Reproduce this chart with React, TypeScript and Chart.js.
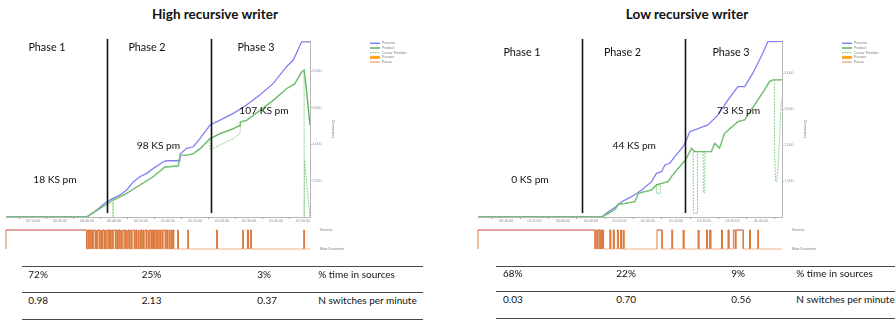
import React, { useEffect, useRef } from 'react';
import { Chart, registerables } from 'chart.js';

Chart.register(...registerables);

type P = [number, number];

// ---------- High recursive writer (left) ----------
const highProcess: P[] = [[0,0],[29.9,0],[33.6,384],[37.3,838],[39.7,1023],[42.2,1205],[44.7,1479],[47.2,1936],[49.6,2210],[52.1,2393],[54.6,2667],[58.3,3028],[59.5,3084],[64.4,3084],[64.5,3451],[66.9,3763],[69.4,3850],[71.9,4307],[73.7,4668],[75.6,5042],[79.3,5316],[84.2,5681],[89.1,6138],[94.0,6686],[99.0,7327],[103.9,8240],[106.4,8604],[109.5,9607],[112.6,9607]];
const highProduct: P[] = [[0,0],[29.9,0],[34.8,477],[37.3,713],[39.7,932],[44.7,1297],[49.6,1753],[54.6,2219],[58.9,2740],[63.8,2795],[64.4,3381],[66.9,3381],[69.4,3474],[71.9,3748],[75.6,4296],[79.3,4570],[84.2,4844],[86.7,5025],[86.8,5207],[89.1,5298],[94.1,5846],[99.0,6394],[103.9,7035],[107.0,7309],[109.5,7950],[110.4,8055],[111.1,7233],[112.6,5042]];
const highCursor: P[] = [[0,0],[29.9,0],[34.8,477],[37.3,713],[39.6,920],[39.65,0],[39.7,932],[44.7,1297],[49.6,1753],[54.6,2219],[58.9,2740],[63.8,2795],[64.4,3381],[66.9,3381],[69.4,3474],[71.9,3748],[75.5,4280],[75.6,3672],[79.3,3950],[84.2,4300],[86.7,4603],[86.8,5207],[89.1,5298],[94.1,5846],[99.0,6394],[103.9,7035],[107.0,7309],[109.5,7950],[110.4,8055],[110.45,0],[110.6,3123],[112.6,0]];
const highSourceVisits: P[] = [[0,29.9],[30.3,30.7],[31.0,31.5],[31.8,32.1],[32.5,33.1],[33.4,33.7],[34.1,34.8],[35.2,35.5],[35.8,36.4],[36.7,37.0],[37.5,38.1],[38.4,38.8],[39.2,39.5],[39.9,40.6],[41.0,41.3],[41.7,42.2],[42.6,42.9],[43.4,44.1],[44.5,44.8],[45.3,45.7],[46.2,46.5],[47.0,47.7],[48.1,48.4],[48.9,49.2],[49.8,50.3],[50.7,51.0],[51.5,52.1],[52.6,52.9],[53.3,53.8],[54.2,54.5],[55.0,55.6],[56.0,56.3],[56.8,57.2],[57.7,58.0],[58.5,59.1],[59.5,59.8],[60.3,60.7],[61.2,61.5],[61.8,62.1],[63.6,63.8],[67.3,67.6],[78.0,78.3],[87.7,87.9],[89.4,89.7],[90.5,90.9],[110.3,110.5]];
const highXMax = 112.6;
const highYMax = 9650;
const highYTicks = [2000, 4000, 6000, 8000];
const highTimeTicks = [10, 20, 30, 40, 50, 60, 70, 80, 90, 100, 110];
const highTimeLabels = ['00:10:00','00:20:00','00:30:00','00:40:00','00:50:00','01:00:00','01:10:00','01:20:00','01:30:00','01:40:00','01:50:00'];
const highPhaseBounds = [37.3, 75.8];
const highRates = ['18 KS pm', '98 KS pm', '107 KS pm'];
const highTimeInSources = ['72%', '25%', '3%'];
const highSwitches = ['0.98', '2.13', '0.37'];

// ---------- Low recursive writer (right) ----------
const lowProcess: P[] = [[0,0],[43.8,0],[46.1,147],[48.5,270],[50.8,425],[54.3,564],[57.9,751],[61.4,981],[63.1,1215],[64.9,1259],[66.1,1446],[67.8,1493],[69.6,1676],[72.5,1954],[73.7,2141],[74.9,2371],[76.6,2419],[81.3,2558],[84.9,2836],[88.4,3253],[91.9,3622],[94.3,3622],[97.2,3995],[100.7,4551],[102.5,4873],[107.5,4880]];
const lowProduct: P[] = [[0,0],[43.8,0],[46.1,102],[48.5,213],[49.7,361],[52.0,380],[55.5,426],[56.7,658],[59.0,704],[61.4,751],[63.1,890],[64.9,936],[67.2,982],[68.4,1121],[70.8,1353],[73.4,1585],[75.5,1909],[76.6,1816],[82.5,1816],[83.7,2048],[85.4,1909],[87.2,2326],[91.9,2650],[94.3,2697],[96.6,2975],[99.0,3253],[101.3,3531],[103.1,3763],[104.3,3809],[107.5,3809]];
const lowCursor: P[] = [[0,0],[43.8,0],[46.1,102],[48.5,213],[49.7,361],[52.0,380],[55.5,426],[56.7,658],[59.0,704],[61.4,751],[63.1,890],[63.2,650],[64.4,650],[64.5,930],[64.9,936],[67.2,982],[68.4,1121],[70.8,1353],[73.4,1585],[75.5,1909],[76.1,1840],[76.15,102],[77.6,102],[77.65,1816],[79.6,1816],[79.65,676],[80.2,676],[80.25,1816],[82.5,1816],[83.7,2048],[85.4,1909],[87.2,2326],[91.9,2650],[94.3,2697],[96.6,2975],[99.0,3253],[101.3,3531],[103.1,3763],[104.3,3809],[104.8,3809],[104.85,1955],[105.2,982],[105.6,982],[106.0,1260],[106.6,2100],[107.2,3160],[107.5,3300]];
const lowSourceVisits: P[] = [[0,41.4],[41.8,42.2],[42.5,43.1],[43.4,43.7],[44.0,44.4],[46.6,46.9],[47.8,48.1],[49.3,49.6],[50.4,50.7],[51.3,51.6],[63.3,65.1],[68.5,68.8],[72.5,72.8],[77.8,78.1],[80.8,81.1],[81.9,82.3],[86.1,86.4],[88.4,88.7],[90.3,91.0],[91.3,93.8],[96.0,96.3],[98.9,99.2]];
const lowXMax = 107.5;
const lowYMax = 4890;
const lowYTicks = [1000, 2000, 3000, 4000];
const lowTimeTicks = [10, 20, 30, 40, 50, 60, 70, 80, 90, 100];
const lowTimeLabels = ['00:10:00','00:20:00','00:30:00','00:40:00','00:50:00','01:00:00','01:10:00','01:20:00','01:30:00','01:40:00'];
const lowPhaseBounds = [36.7, 73.3];
const lowRates = ['0 KS pm', '44 KS pm', '73 KS pm'];
const lowTimeInSources = ['68%', '22%', '9%'];
const lowSwitches = ['0.03', '0.70', '0.56'];

// ---------- shared labels ----------
const phaseNames = ['Phase 1', 'Phase 2', 'Phase 3'];
const tableRowLabels = ['% time in sources', 'N switches per minute'];
const stripLabels = ['Main Document', 'Sources'];
const legendLabels = ['Process', 'Product', 'Cursor Position', 'Pauses', 'Focus'];
const yAxisTitle = 'Characters';

const C_PROCESS = '#8080f4';
const C_PRODUCT = '#5db35d';
const C_CURSOR = '#8ccf8c';
const C_PAUSE = '#ffa41c';
const C_FOCUS = '#f3b487';
const FONT = 'Lato, "Open Sans", sans-serif';
const TINY = '"Liberation Sans", Arial, sans-serif';

const legendStyles = [
  { color: C_PROCESS, width: 1.5, dash: [] as number[] },
  { color: C_PRODUCT, width: 1.5, dash: [] as number[] },
  { color: C_CURSOR, width: 1.2, dash: [1.5, 1] },
  { color: C_PAUSE, width: 3, dash: [] as number[] },
  { color: C_FOCUS, width: 1.5, dash: [] as number[] },
];

const phaseLinesPlugin = {
  id: 'phaseLines',
  afterDatasetsDraw(chart: any, _a: any, opts: any) {
    const { ctx, chartArea, scales } = chart;
    ctx.save();
    ctx.strokeStyle = '#111';
    ctx.lineWidth = 1.6;
    (opts.times || []).forEach((t: number) => {
      const x = Math.round(scales.x.getPixelForValue(t)) + 0.5;
      ctx.beginPath();
      ctx.moveTo(x, chartArea.top - 2);
      ctx.lineTo(x, chartArea.bottom - 4);
      ctx.stroke();
    });
    ctx.restore();
  },
};

const sideLegendPlugin = {
  id: 'sideLegend',
  afterDraw(chart: any, _a: any, opts: any) {
    const { ctx, chartArea } = chart;
    ctx.save();
    const x0 = chartArea.right + opts.dx;
    legendLabels.forEach((label, i) => {
      const st = legendStyles[i];
      const y = chartArea.top + opts.dy + i * opts.gap;
      ctx.strokeStyle = st.color;
      ctx.lineWidth = st.width;
      ctx.setLineDash(st.dash);
      ctx.beginPath();
      ctx.moveTo(x0, y);
      ctx.lineTo(x0 + 10, y);
      ctx.stroke();
      ctx.setLineDash([]);
      ctx.fillStyle = '#777';
      ctx.font = `3.6px ${TINY}`;
      ctx.textBaseline = 'middle';
      ctx.fillText(label, x0 + 12, y);
    });
    ctx.restore();
  },
};

const toXY = (arr: P[]) => arr.map(([x, y]) => ({ x, y }));

interface LineProps {
  left: number; top: number; width: number; height: number;
  pad: { left: number; right: number; top: number; bottom: number };
  process: P[]; product: P[]; cursor: P[];
  xMax: number; yMax: number; yTicks: number[];
  timeTicks: number[]; timeLabels: string[]; phases: number[];
}

function ProgressChart(p: LineProps) {
  const ref = useRef<HTMLCanvasElement>(null);
  useEffect(() => {
    const allTicks: number[] = [];
    p.timeTicks.forEach((m) => { allTicks.push(m - 5, m); });
    const last = p.timeTicks[p.timeTicks.length - 1] + 5;
    if (last <= p.xMax) allTicks.push(last);
    const chart = new Chart(ref.current as HTMLCanvasElement, {
      type: 'line',
      data: {
        datasets: [
          { label: legendLabels[2], data: toXY(p.cursor), borderColor: C_CURSOR, borderWidth: 1, borderDash: [2, 1], pointRadius: 0, tension: 0 },
          { label: legendLabels[1], data: toXY(p.product), borderColor: C_PRODUCT, borderWidth: 1.4, pointRadius: 0, tension: 0 },
          { label: legendLabels[0], data: toXY(p.process), borderColor: C_PROCESS, borderWidth: 1.3, pointRadius: 0, tension: 0 },
        ],
      },
      plugins: [phaseLinesPlugin, sideLegendPlugin],
      options: {
        animation: false,
        responsive: false,
        maintainAspectRatio: false,
        layout: { padding: p.pad },
        plugins: {
          legend: { display: false },
          tooltip: { enabled: false },
          phaseLines: { times: p.phases },
          sideLegend: { dx: 60, dy: 2.3, gap: 4.7 },
        } as any,
        scales: {
          x: {
            type: 'linear',
            min: 0,
            max: p.xMax,
            afterBuildTicks: (s: any) => { s.ticks = allTicks.map((v) => ({ value: v })); },
            afterFit: (s: any) => { s.height = 10; },
            ticks: {
              autoSkip: false, maxRotation: 0, minRotation: 0,
              font: { size: 3.6, family: TINY }, color: '#888', padding: 0,
              callback: (v: any) => { const i = p.timeTicks.indexOf(Number(v)); return i >= 0 ? p.timeLabels[i] : ''; },
            },
            grid: {
              drawOnChartArea: false, drawTicks: true, tickLength: 2,
              tickColor: (ctx: any) => (ctx.tick && p.timeTicks.includes(ctx.tick.value) ? 'rgba(0,0,0,0)' : '#999'),
            },
            border: { color: '#b5b5b5' },
          },
          y: {
            type: 'linear',
            position: 'right',
            min: 0,
            max: p.yMax,
            afterBuildTicks: (s: any) => { s.ticks = p.yTicks.map((v) => ({ value: v })); },
            afterFit: (s: any) => { s.width = 26; },
            ticks: {
              font: { size: 3.6, family: TINY }, color: '#888', padding: 1,
              callback: (v: any) => Number(v).toLocaleString('en-US'),
            },
            grid: { drawOnChartArea: false, drawTicks: true, tickLength: 1.5, tickColor: '#999' },
            border: { color: '#b5b5b5' },
            title: { display: true, text: yAxisTitle, font: { size: 3.8, family: TINY }, color: '#777', padding: 1 },
          },
        },
      } as any,
    });
    return () => chart.destroy();
  }, []);
  return <canvas ref={ref} width={p.width} height={p.height} style={{ position: 'absolute', left: p.left, top: p.top, width: p.width, height: p.height }} />;
}

interface StripProps {
  left: number; top: number; width: number; height: number;
  pad: { left: number; right: number; top: number; bottom: number };
  visits: P[]; xMax: number;
}

function SourceStrip(p: StripProps) {
  const ref = useRef<HTMLCanvasElement>(null);
  useEffect(() => {
    const pts: { x: number; y: number }[] = [{ x: 0, y: 0 }];
    p.visits.forEach(([a, b]) => {
      pts.push({ x: a, y: 0 }, { x: a, y: 1 }, { x: b, y: 1 }, { x: b, y: 0 });
    });
    pts.push({ x: p.xMax, y: 0 });
    const chart = new Chart(ref.current as HTMLCanvasElement, {
      type: 'line',
      data: {
        datasets: [{
          label: 'Focus',
          data: pts,
          borderWidth: 1,
          pointRadius: 0,
          tension: 0,
          clip: 4,
          borderColor: '#e8955a',
          segment: {
            borderColor: (ctx: any) => {
              const y0 = ctx.p0.parsed.y, y1 = ctx.p1.parsed.y;
              if (y0 !== y1) return '#dc7a3c';
              return y0 === 1 ? '#c44a3c' : '#f1b185';
            },
          },
        } as any],
      },
      options: {
        animation: false,
        responsive: false,
        maintainAspectRatio: false,
        layout: { padding: p.pad },
        plugins: { legend: { display: false }, tooltip: { enabled: false } },
        scales: {
          x: { type: 'linear', min: 0, max: p.xMax, display: false },
          y: {
            type: 'linear', position: 'right', min: 0, max: 1,
            afterBuildTicks: (s: any) => { s.ticks = [{ value: 0 }, { value: 1 }]; },
            afterFit: (s: any) => { s.width = 40; },
            ticks: { font: { size: 3.4, family: TINY }, color: '#777', padding: 2, callback: (v: any) => stripLabels[Number(v)] },
            grid: { display: false },
            border: { display: false },
          },
        },
      } as any,
    });
    return () => chart.destroy();
  }, []);
  return <canvas ref={ref} width={p.width} height={p.height} style={{ position: 'absolute', left: p.left, top: p.top, width: p.width, height: p.height }} />;
}

const Txt = (props: { x: number; y: number; size: number; bold?: boolean; center?: boolean; children: React.ReactNode }) => (
  <div style={{
    position: 'absolute', left: props.x, top: props.y,
    transform: `translate(${props.center ? '-50%' : '0'}, -50%)`,
    fontFamily: FONT, fontSize: props.size, fontWeight: props.bold ? 700 : 400,
    lineHeight: 1, whiteSpace: 'nowrap', color: '#111',
  }}>{props.children}</div>
);

const HLine = (props: { x1: number; x2: number; y: number }) => (
  <div style={{ position: 'absolute', left: props.x1, top: props.y, width: props.x2 - props.x1, height: 1, background: '#4a4a4a' }} />
);

function StatsTable(props: { x1: number; x2: number; lines: number[]; rows: number[]; cols: number[]; cells: string[][] }) {
  return (
    <>
      {props.lines.map((y, i) => <HLine key={'l' + i} x1={props.x1} x2={props.x2} y={y} />)}
      {props.cells.map((row, r) => row.map((c, k) => (
        <Txt key={r + '-' + k} x={props.cols[k]} y={props.rows[r]} size={10}>{c}</Txt>
      )))}
    </>
  );
}

export default function App() {
  return (
    <div style={{ position: 'absolute', left: 0, top: 0, width: 896, height: 321, background: '#fff', overflow: 'hidden' }}>
      {/* Left panel */}
      <Txt x={215} y={14.5} size={13.5} bold center>High recursive writer</Txt>
      <ProgressChart left={0} top={0} width={448} height={228}
        pad={{ left: 6, right: 112, top: 41, bottom: 1 }}
        process={highProcess} product={highProduct} cursor={highCursor}
        xMax={highXMax} yMax={highYMax} yTicks={highYTicks}
        timeTicks={highTimeTicks} timeLabels={highTimeLabels} phases={highPhaseBounds} />
      <SourceStrip left={0} top={222} width={448} height={32}
        pad={{ left: 6, right: 98, top: 8, bottom: 5 }} visits={highSourceVisits} xMax={highXMax} />
      <Txt x={47} y={46.7} size={10.8} center>{phaseNames[0]}</Txt>
      <Txt x={147} y={46.7} size={10.8} center>{phaseNames[1]}</Txt>
      <Txt x={256} y={46.7} size={10.8} center>{phaseNames[2]}</Txt>
      <Txt x={55} y={179.3} size={10.2} center>{highRates[0]}</Txt>
      <Txt x={158.5} y={145} size={10.2} center>{highRates[1]}</Txt>
      <Txt x={264} y={110} size={10.2} center>{highRates[2]}</Txt>
      <StatsTable x1={22} x2={423} lines={[265.5, 292, 318.5]} rows={[274, 300.3]} cols={[28.3, 141.7, 257.3, 318.3]}
        cells={[[...highTimeInSources, tableRowLabels[0]], [...highSwitches, tableRowLabels[1]]]} />

      {/* Right panel */}
      <Txt x={687} y={14.5} size={13.5} bold center>Low recursive writer</Txt>
      <ProgressChart left={448} top={0} width={448} height={228}
        pad={{ left: 30, right: 88, top: 41, bottom: 1 }}
        process={lowProcess} product={lowProduct} cursor={lowCursor}
        xMax={lowXMax} yMax={lowYMax} yTicks={lowYTicks}
        timeTicks={lowTimeTicks} timeLabels={lowTimeLabels} phases={lowPhaseBounds} />
      <SourceStrip left={448} top={222} width={448} height={32}
        pad={{ left: 30, right: 74, top: 8, bottom: 5 }} visits={lowSourceVisits} xMax={lowXMax} />
      <Txt x={522} y={52.3} size={10.8} center>{phaseNames[0]}</Txt>
      <Txt x={622.5} y={52.3} size={10.8} center>{phaseNames[1]}</Txt>
      <Txt x={731} y={52.3} size={10.8} center>{phaseNames[2]}</Txt>
      <Txt x={530} y={179.3} size={10.2} center>{lowRates[0]}</Txt>
      <Txt x={634.3} y={145} size={10.2} center>{lowRates[1]}</Txt>
      <Txt x={738.5} y={110} size={10.2} center>{lowRates[2]}</Txt>
      <StatsTable x1={496} x2={895} lines={[265.5, 290.5, 318]} rows={[273.3, 299.3]} cols={[503, 616.3, 731.3, 796.3]}
        cells={[[...lowTimeInSources, tableRowLabels[0]], [...lowSwitches, tableRowLabels[1]]]} />
    </div>
  );
}
